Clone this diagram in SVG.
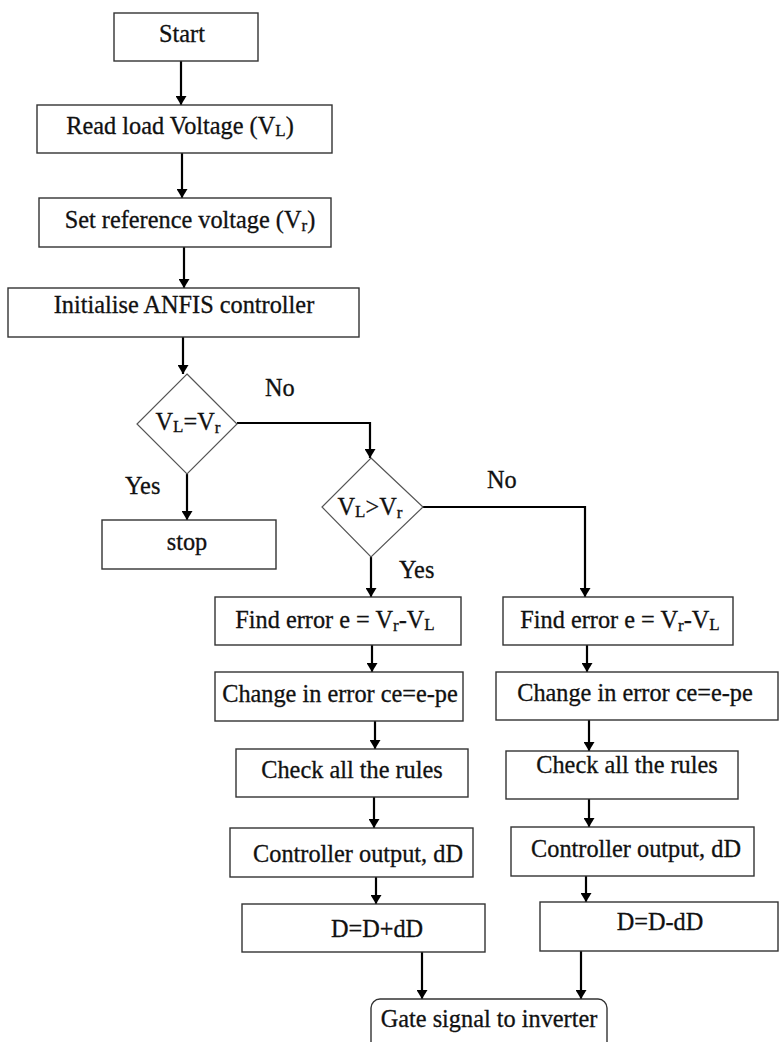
<svg xmlns="http://www.w3.org/2000/svg" width="779" height="1042" viewBox="0 0 779 1042">
<defs>
<marker id="arr" markerUnits="userSpaceOnUse" markerWidth="10" markerHeight="11" refX="9" refY="5.5" orient="auto">
<path d="M0,0 L9,5.5 L0,11 z" fill="#000"/>
</marker>
<style>
.box{fill:#fff;stroke:#333;stroke-width:1.4}
.dia{fill:#fff;stroke:#555;stroke-width:1.2}
.t{font-family:"Liberation Serif","Times New Roman",serif;font-size:24.3px;fill:#111;stroke:#111;stroke-width:0.3;text-anchor:middle}
.lbl{font-family:"Liberation Serif","Times New Roman",serif;font-size:24.3px;fill:#111;stroke:#111;stroke-width:0.3}
.c{fill:none;stroke:#000;stroke-width:2.2;marker-end:url(#arr)}
</style>
</defs>
<rect width="779" height="1042" fill="#fff"/>

<g id="connectors">
<path class="c" d="M181,61 V105"/>
<path class="c" d="M182,153 V198"/>
<path class="c" d="M184,247 V288"/>
<path class="c" d="M183,337 V374"/>
<path class="c" d="M187,474 V520"/>
<path class="c" d="M237,423 H370 V458"/>
<path class="c" d="M371,557 V597"/>
<path class="c" d="M423,507 H585 V597"/>
<path class="c" d="M372,645 V672"/>
<path class="c" d="M375,721 V749"/>
<path class="c" d="M374,797 V828"/>
<path class="c" d="M376,877 V904"/>
<path class="c" d="M422,952 V999"/>
<path class="c" d="M587,645 V672"/>
<path class="c" d="M589,720 V751"/>
<path class="c" d="M589,799 V827"/>
<path class="c" d="M586,876 V902"/>
<path class="c" d="M581,951 V999"/>
</g>

<g id="labels">
<text class="lbl" x="265" y="396">No</text>
<text class="lbl" x="125" y="494">Yes</text>
<text class="lbl" x="487" y="488">No</text>
<text class="lbl" x="399" y="578">Yes</text>
</g>

<g id="start">
<rect class="box" x="114" y="13" width="144" height="48"/>
<text class="t" x="182" y="42">Start</text>
</g>

<g id="read">
<rect class="box" x="37" y="105" width="295" height="48"/>
<text class="t" x="180" y="134">Read load Voltage (V<tspan font-size="17" dy="2">L</tspan><tspan dy="-2">)</tspan></text>
</g>

<g id="setref">
<rect class="box" x="39" y="198" width="292" height="49"/>
<text class="t" x="190" y="228">Set reference voltage (V<tspan font-size="17" dy="3">r</tspan><tspan dy="-3">)</tspan></text>
</g>

<g id="init">
<rect class="box" x="8" y="288" width="351" height="49"/>
<text class="t" x="184" y="313">Initialise ANFIS controller</text>
</g>

<g id="dec1">
<polygon class="dia" points="187,374 237,424 187,474 137,424"/>
<text class="t" x="188" y="430">V<tspan font-size="17" dy="2">L</tspan><tspan dy="-2">=V</tspan><tspan font-size="17" dy="3">r</tspan></text>
</g>

<g id="stop">
<rect class="box" x="102" y="520" width="174" height="49"/>
<text class="t" x="187" y="550">stop</text>
</g>

<g id="dec2">
<polygon class="dia" points="371,458 423,507 371,557 322,507"/>
<text class="t" x="370" y="515">V<tspan font-size="17" dy="2">L</tspan><tspan dy="-2">&gt;V</tspan><tspan font-size="17" dy="3">r</tspan></text>
</g>

<g id="findL">
<rect class="box" x="215" y="597" width="246" height="48"/>
<text class="t" x="335" y="628">Find error e = V<tspan font-size="17" dy="3">r</tspan><tspan dy="-3">-V</tspan><tspan font-size="17" dy="2">L</tspan></text>
</g>

<g id="findR">
<rect class="box" x="503" y="597" width="230" height="48"/>
<text class="t" x="620" y="628">Find error e = V<tspan font-size="17" dy="3">r</tspan><tspan dy="-3">-V</tspan><tspan font-size="17" dy="2">L</tspan></text>
</g>

<g id="changeL">
<rect class="box" x="215" y="672" width="248" height="49"/>
<text class="t" x="340" y="702">Change in error ce=e-pe</text>
</g>

<g id="changeR">
<rect class="box" x="496" y="672" width="282" height="48"/>
<text class="t" x="635" y="701">Change in error ce=e-pe</text>
</g>

<g id="checkL">
<rect class="box" x="236" y="749" width="232" height="48"/>
<text class="t" x="352" y="778">Check all the rules</text>
</g>

<g id="checkR">
<rect class="box" x="506" y="751" width="232" height="48"/>
<text class="t" x="627" y="773">Check all the rules</text>
</g>

<g id="ctrlL">
<rect class="box" x="230" y="828" width="243" height="49"/>
<text class="t" x="358" y="862">Controller output, dD</text>
</g>

<g id="ctrlR">
<rect class="box" x="511" y="827" width="243" height="49"/>
<text class="t" x="636" y="857">Controller output, dD</text>
</g>

<g id="dplus">
<rect class="box" x="242" y="904" width="243" height="48"/>
<text class="t" x="377" y="937">D=D+dD</text>
</g>

<g id="dminus">
<rect class="box" x="540" y="902" width="238" height="49"/>
<text class="t" x="660" y="930">D=D-dD</text>
</g>

<g id="gate">
<rect class="box" x="371" y="999" width="236" height="60" rx="9" ry="9"/>
<text class="t" x="489" y="1027">Gate signal to inverter</text>
</g>
</svg>
